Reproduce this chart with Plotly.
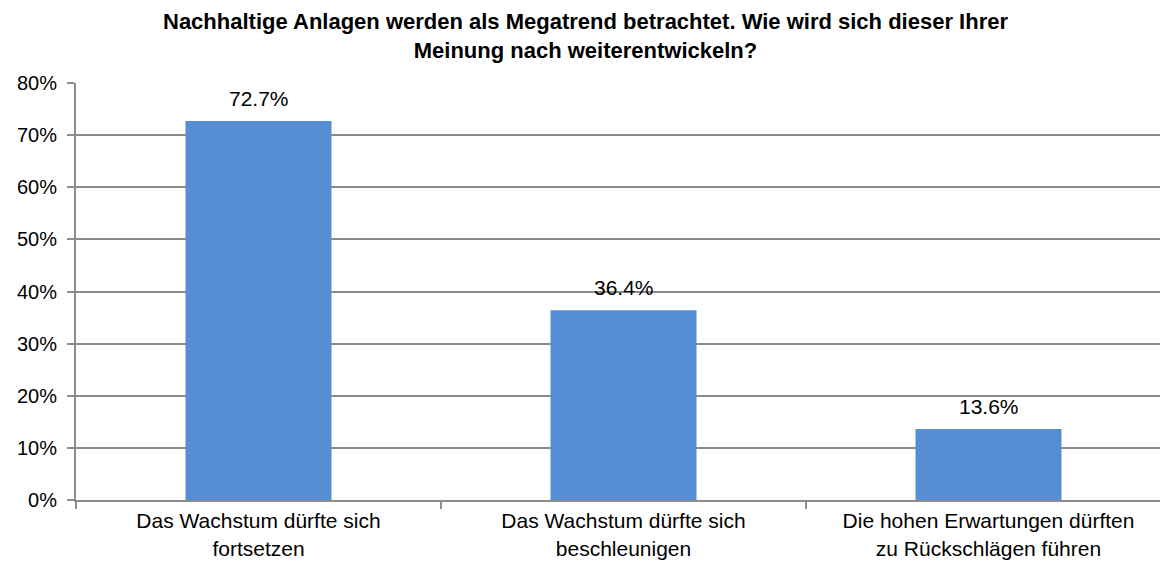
import plotly.graph_objects as go

categories = [
    "Das Wachstum dürfte sich<br>fortsetzen",
    "Das Wachstum dürfte sich<br>beschleunigen",
    "Die hohen Erwartungen dürften<br>zu Rückschlägen führen",
]
values = [0.727, 0.364, 0.136]
labels = ["72.7%", "36.4%", "13.6%"]
y_ticks = [0, 0.1, 0.2, 0.3, 0.4, 0.5, 0.6, 0.7, 0.8]
y_tick_text = ["0%", "10%", "20%", "30%", "40%", "50%", "60%", "70%", "80%"]

title = ("<b>Nachhaltige Anlagen werden als Megatrend betrachtet. Wie wird sich dieser Ihrer"
         "<br>Meinung nach weiterentwickeln?</b>")

fig = go.Figure(
    go.Bar(
        x=categories,
        y=values,
        marker=dict(color="#558ED5", line=dict(width=0)),
        width=0.4,
    )
)

annotations = [
    dict(
        text=title,
        xref="paper",
        yref="paper",
        x=(577 - 68) / 1095,
        y=1.0 + 47 / 417,
        xanchor="center",
        yanchor="middle",
        showarrow=False,
        font=dict(family="Liberation Sans Narrow, Arial Narrow, Liberation Sans", size=22, color="#000000"),
    )
]
for c, v, t in zip(categories, values, labels):
    annotations.append(
        dict(
            x=c, y=v, xref="x", yref="y",
            text=t, showarrow=False,
            yanchor="bottom", yshift=9,
            font=dict(family="Liberation Sans, Arial", size=21, color="#000000"),
        )
    )

fig.update_layout(
    width=1168,
    height=561,
    paper_bgcolor="white",
    plot_bgcolor="white",
    margin=dict(l=68, r=5, t=75, b=69, autoexpand=False),
    showlegend=False,
    annotations=annotations,
)

fig.update_yaxes(
    range=[0, 0.8],
    tickvals=y_ticks,
    ticktext=y_tick_text,
    automargin=False,
    showgrid=True,
    gridcolor="#8C8C8C",
    gridwidth=1.5,
    showline=True,
    linecolor="#8C8C8C",
    linewidth=2,
    ticks="outside",
    ticklen=7,
    tickcolor="#8C8C8C",
    tickwidth=1.5,
    ticklabelstandoff=6,
    tickfont=dict(family="Liberation Sans, Arial", size=20, color="#000000"),
    zeroline=False,
)

fig.update_xaxes(
    type="category",
    tickson="boundaries",
    automargin=False,
    ticks="outside",
    ticklen=7,
    tickcolor="#8C8C8C",
    tickwidth=1.5,
    showline=True,
    linecolor="#8C8C8C",
    linewidth=2,
    showgrid=False,
    ticklabelstandoff=1,
    tickfont=dict(family="Liberation Sans, Arial", size=21, color="#000000"),
)

fig.write_html("out.html")
